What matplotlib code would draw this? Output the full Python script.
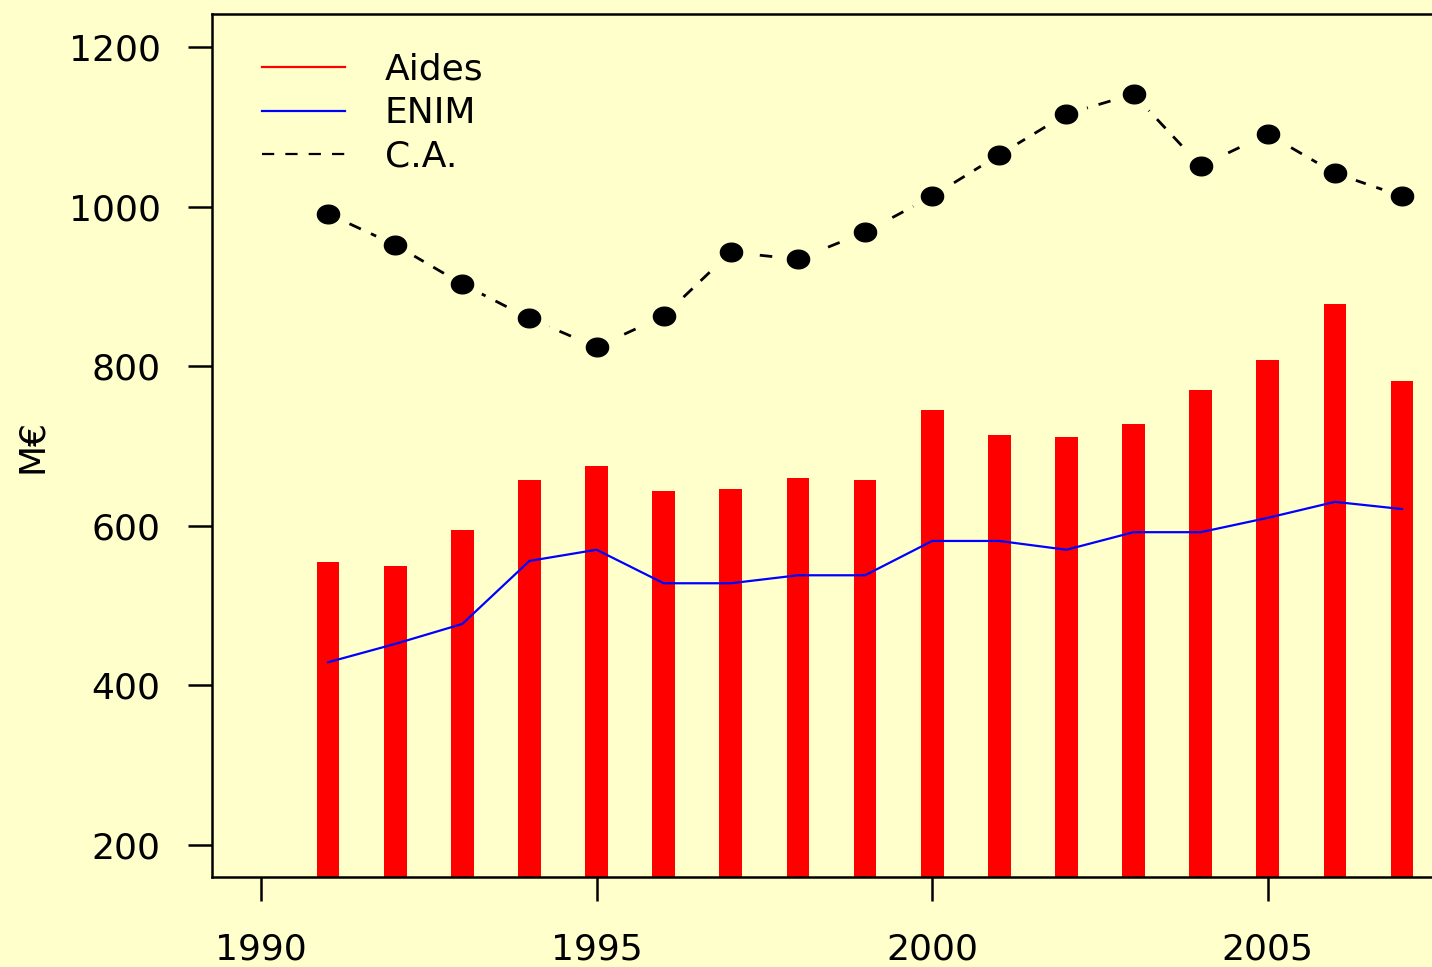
import matplotlib.pyplot as plt
import numpy as np

# Data (M€)
years = [1991, 1992, 1993, 1994, 1995, 1996, 1997, 1998, 1999,
         2000, 2001, 2002, 2003, 2004, 2005, 2006, 2007]
aides = [555, 550, 595, 657, 675, 644, 646, 660, 657,
         745, 714, 711, 728, 770, 808, 878, 781]
enim = [429, 452, 477, 556, 570, 528, 528, 538, 538,
        581, 581, 570, 592, 592, 610, 630, 621]
ca = [991, 952, 903, 860, 824, 863, 943, 934, 968,
      1013, 1065, 1116, 1141, 1051, 1091, 1042, 1013]

bg = "#FFFFCC"
plt.rcParams["font.family"] = ["DejaVu Sans"]

# slightly flattened dot, like the R device output
t = np.linspace(0, 2 * np.pi, 40)
ellipse = np.column_stack([np.cos(t), 0.84 * np.sin(t)])

fig = plt.figure(figsize=(14.32, 9.67), dpi=100, facecolor=bg)
ax = fig.add_axes([0.148, 0.0931, 0.87, 0.8924], facecolor=bg)

ax.bar(years, aides, width=0.34, color="#FF0000", zorder=1)
ax.plot(years, enim, color="#0000FF", lw=1.6, zorder=2)

# type="b" look: dashed line broken around the points
ax.plot(years, ca, color="black", lw=2.0, dashes=(4.5, 4.0), zorder=3)
ax.plot(years, ca, ls="none", marker="o", ms=30, color=bg, mec=bg, zorder=4)
ax.plot(years, ca, ls="none", marker=ellipse, ms=16, color="black", zorder=5)

ax.set_xlim(1989.27, 2007.83)
ax.set_ylim(159.9, 1241.4)
ax.set_xticks([1990, 1995, 2000, 2005])
ax.set_yticks([200, 400, 600, 800, 1000, 1200])

ax.tick_params(axis="both", labelsize=26, length=17, width=1.8, direction="out")
ax.tick_params(axis="x", pad=23)
ax.tick_params(axis="y", pad=20)
for s in ax.spines.values():
    s.set_linewidth(1.8)
ax.spines["right"].set_visible(False)

ax.set_ylabel("M€", fontsize=26, labelpad=14)

handles = [plt.Line2D([], [], color="#FF0000", lw=1.6),
           plt.Line2D([], [], color="#0000FF", lw=1.6),
           plt.Line2D([], [], color="black", lw=1.6, dashes=(5.5, 5.0))]
ax.legend(handles, ["Aides", "ENIM", "C.A."], loc="upper left",
          bbox_to_anchor=(0.04, 0.955), frameon=False, fontsize=26,
          handlelength=2.3, handletextpad=1.1, labelspacing=0.26,
          borderpad=0, borderaxespad=0)

fig.savefig("out.png", dpi=100, facecolor=bg)
